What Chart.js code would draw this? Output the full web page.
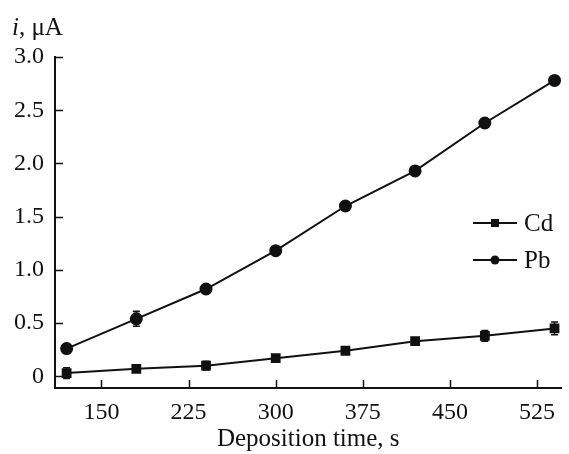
<!DOCTYPE html>
<html>
<head>
<meta charset="utf-8">
<script src="https://cdn.jsdelivr.net/npm/chart.js@4.4.0/dist/chart.umd.min.js"></script>
<style>
html,body{margin:0;padding:0;background:#fff;}
#wrap{width:569px;height:454px;position:relative;}
</style>
</head>
<body>
<div id="wrap"><canvas id="chart"></canvas></div>
<script>
// deposition time, s
var times = [120, 180, 240, 300, 360, 420, 480, 540];
var cdValues = [0.03, 0.07, 0.10, 0.17, 0.24, 0.33, 0.38, 0.45];
var cdErrors = [0.05, 0.02, 0.04, 0.02, 0.02, 0.03, 0.05, 0.06];
var pbValues = [0.26, 0.54, 0.82, 1.18, 1.60, 1.93, 2.38, 2.78];
var pbErrors = [0.04, 0.07, 0.02, 0.02, 0.04, 0.02, 0.02, 0.02];
var xTicks = [150, 225, 300, 375, 450, 525];
var yTicks = [0, 0.5, 1.0, 1.5, 2.0, 2.5, 3.0];

var serif = "'Liberation Serif', 'DejaVu Serif', serif";

function toPoints(vals){
    var pts = [];
    for(var i=0;i<times.length;i++){
        pts.push({x: times[i], y: vals[i]});
    }
    return pts;
}

// error bars + inward ticks + legend + y title
var extras = {
    id: 'extras',
    afterDatasetsDraw: function(chart){
        var ctx = chart.ctx;
        var xs = chart.scales.x, ys = chart.scales.y;
        var errs = [cdErrors, pbErrors];
        var vals = [cdValues, pbValues];
        ctx.save();
        ctx.strokeStyle = '#111';
        ctx.lineWidth = 1.6;
        for(var d=0; d<2; d++){
            for(var i=0;i<times.length;i++){
                var px = xs.getPixelForValue(times[i]);
                var top = ys.getPixelForValue(vals[d][i] + errs[d][i]);
                var bot = ys.getPixelForValue(vals[d][i] - errs[d][i]);
                ctx.beginPath();
                ctx.moveTo(px, top); ctx.lineTo(px, bot);
                ctx.moveTo(px-3.5, top); ctx.lineTo(px+3.5, top);
                ctx.moveTo(px-3.5, bot); ctx.lineTo(px+3.5, bot);
                ctx.stroke();
            }
        }
        ctx.restore();
    },
    afterDraw: function(chart){
        var ctx = chart.ctx;
        var xs = chart.scales.x, ys = chart.scales.y;
        var area = chart.chartArea;
        ctx.save();
        ctx.strokeStyle = '#111';
        ctx.lineWidth = 1.5;
        ctx.beginPath();
        for(var i=0;i<xTicks.length;i++){
            var px = Math.round(xs.getPixelForValue(xTicks[i])) + 0.5;
            ctx.moveTo(px, area.bottom); ctx.lineTo(px, area.bottom - 8);
        }
        for(var j=0;j<yTicks.length;j++){
            var py = Math.round(ys.getPixelForValue(yTicks[j])) + 0.5;
            ctx.moveTo(area.left, py); ctx.lineTo(area.left + 8, py);
        }
        ctx.stroke();

        // y axis title
        ctx.fillStyle = '#111';
        ctx.textBaseline = 'alphabetic';
        ctx.textAlign = 'left';
        ctx.font = "italic 25px " + serif;
        ctx.fillText('i', 12, 35);
        var w = ctx.measureText('i').width;
        ctx.font = "25px " + serif;
        ctx.fillText(', μA', 12 + w, 35);

        // legend
        var items = [['Cd', 'rect', 223], ['Pb', 'circle', 260]];
        for(var k=0;k<items.length;k++){
            var y = items[k][2];
            ctx.lineWidth = 2;
            ctx.beginPath();
            ctx.moveTo(473, y); ctx.lineTo(517, y);
            ctx.stroke();
            ctx.beginPath();
            if(items[k][1]=='rect'){
                ctx.rect(491, y-4, 8, 8);
            } else {
                ctx.arc(495, y, 4.5, 0, Math.PI*2);
            }
            ctx.fill();
            ctx.font = "25px " + serif;
            ctx.textBaseline = 'middle';
            ctx.fillText(items[k][0], 524, y + 1);
        }
        ctx.restore();
    }
};

var ctx1 = document.getElementById("chart").getContext("2d");
window.myChart = new Chart(ctx1, {
    type: 'line',
    data: {
        datasets: [{
            label: 'Cd',
            data: toPoints(cdValues),
            borderColor: '#111',
            backgroundColor: '#111',
            borderWidth: 2,
            pointStyle: 'rect',
            pointRadius: 5.5,
            pointHoverRadius: 5.5,
            tension: 0
        }, {
            label: 'Pb',
            data: toPoints(pbValues),
            borderColor: '#111',
            backgroundColor: '#111',
            borderWidth: 2,
            pointStyle: 'circle',
            pointRadius: 5.5,
            pointHoverRadius: 5.5,
            tension: 0
        }]
    },
    options: {
        responsive: true,
        maintainAspectRatio: false,
        animation: false,
        layout: { padding: { top: 57, right: 2, left: 0, bottom: 0 } },
        plugins: {
            legend: { display: false },
            tooltip: { enabled: false }
        },
        scales: {
            x: {
                type: 'linear',
                min: 110,
                max: 546,
                afterBuildTicks: function(scale){
                    scale.ticks = xTicks.map(function(v){ return {value: v}; });
                },
                afterFit: function(scale){ scale.height = 66; },
                grid: { display: true, drawOnChartArea: false, drawTicks: false },
                border: { display: true, color: '#111', width: 2 },
                ticks: {
                    color: '#111',
                    padding: 10,
                    maxRotation: 0,
                    font: { family: serif, size: 24 }
                },
                title: {
                    display: true,
                    text: 'Deposition time, s',
                    color: '#111',
                    font: { family: serif, size: 25 },
                    padding: { top: 0, bottom: 0 }
                }
            },
            y: {
                min: -0.11,
                max: 3.0,
                afterBuildTicks: function(scale){
                    scale.ticks = yTicks.map(function(v){ return {value: v}; });
                },
                afterFit: function(scale){ scale.width = 55; },
                grid: { display: true, drawOnChartArea: false, drawTicks: false },
                border: { display: true, color: '#111', width: 2 },
                ticks: {
                    color: '#111',
                    padding: 11,
                    font: { family: serif, size: 24 },
                    callback: function(v){ return v === 0 ? '0' : v.toFixed(1); }
                }
            }
        }
    },
    plugins: [extras]
});
</script>
</body>
</html>
